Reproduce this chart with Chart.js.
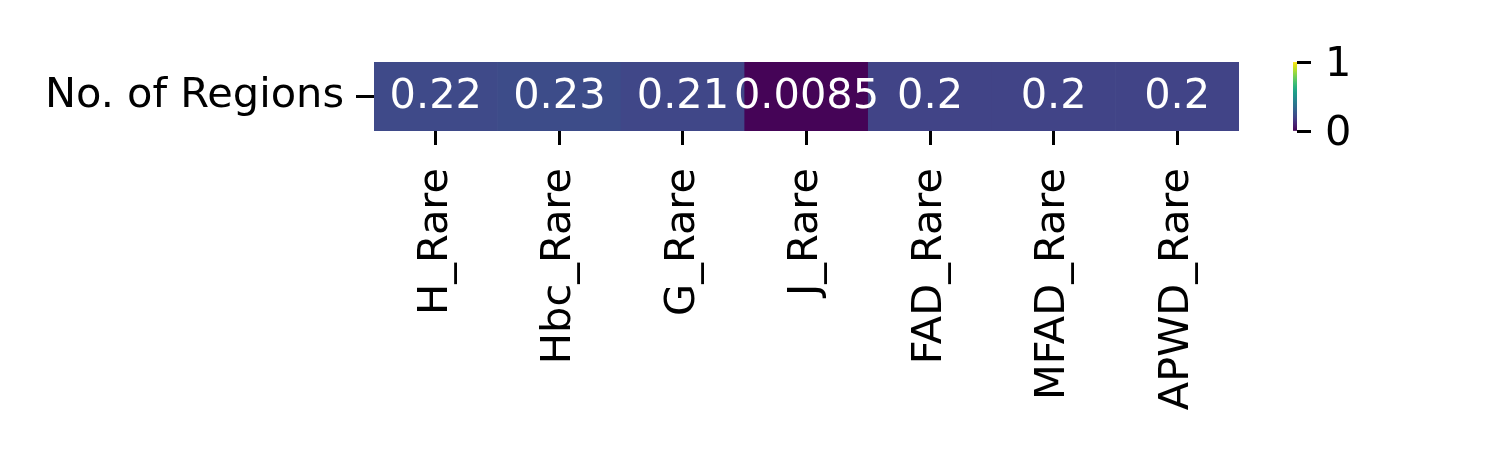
<!DOCTYPE html>
<html>
<head>
<meta charset="utf-8">
<script src="https://cdn.jsdelivr.net/npm/chart.js@4"></script>
<style>
  body { margin: 0; background: #fff; }
  #wrap { position: relative; width: 1500px; height: 450px; }
  #heat { position: absolute; left: 0; top: 0; }
  #cbar { position: absolute; left: 1270px; top: 0; }
</style>
</head>
<body>
<div id="wrap">
  <canvas id="heat" width="1260" height="450"></canvas>
  <canvas id="cbar" width="200" height="450"></canvas>
</div>
<script>
const rowLabel = 'No. of Regions';
const methods = ['H_Rare', 'Hbc_Rare', 'G_Rare', 'J_Rare', 'FAD_Rare', 'MFAD_Rare', 'APWD_Rare'];
const scores = [0.22, 0.23, 0.21, 0.0085, 0.2, 0.2, 0.2];
const colorbarTicks = [0, 1];

const FONT = 'DejaVu Sans, sans-serif';
const FONT_SIZE = 41.5;

// viridis sampled every 0.05
const viridis = ['#440154', '#471365', '#482475', '#463480', '#414487', '#3b528b', '#355f8d',
    '#2f6c8e', '#2a788e', '#25848e', '#21918c', '#1e9c89', '#22a884', '#2fb47c', '#44bf70',
    '#5ec962', '#7ad151', '#9bd93c', '#bddf26', '#dfe318', '#fde725'];

function hexRgb(h) {
    return [1, 3, 5].map(i => parseInt(h.substr(i, 2), 16));
}

function viridisColor(v) {
    v = Math.max(0, Math.min(1, v));
    const pos = v * (viridis.length - 1);
    const i = Math.min(Math.floor(pos), viridis.length - 2);
    const t = pos - i;
    const a = hexRgb(viridis[i]), b = hexRgb(viridis[i + 1]);
    const c = a.map((x, k) => Math.round(x + (b[k] - x) * t));
    return `rgb(${c[0]}, ${c[1]}, ${c[2]})`;
}

// cell annotations
const cellLabels = {
    id: 'cellLabels',
    afterDatasetsDraw(chart) {
        const ctx = chart.ctx;
        const meta = chart.getDatasetMeta(0);
        ctx.save();
        ctx.fillStyle = '#fff';
        ctx.font = `${FONT_SIZE}px ${FONT}`;
        ctx.textAlign = 'center';
        ctx.textBaseline = 'middle';
        meta.data.forEach((bar, i) => {
            const props = bar.getProps(['x', 'y', 'base'], true);
            ctx.fillText(String(scores[i]), props.x, (props.y + props.base) / 2 + 1);
        });
        ctx.restore();
    }
};

new Chart(document.getElementById('heat'), {
    type: 'bar',
    data: {
        labels: methods,
        datasets: [{
            data: scores.map(() => 1),
            backgroundColor: scores.map(viridisColor),
            borderWidth: 0,
            barPercentage: 1,
            categoryPercentage: 1
        }]
    },
    options: {
        responsive: false,
        devicePixelRatio: 1,
        animation: false,
        layout: { padding: { top: 62, left: 0, right: 21, bottom: 0 } },
        plugins: { legend: { display: false }, tooltip: { enabled: false } },
        scales: {
            x: {
                border: { display: false },
                grid: { offset: false, drawOnChartArea: false, tickLength: 14, tickWidth: 3, tickColor: '#000' },
                ticks: {
                    autoSkip: false, minRotation: 90, maxRotation: 90,
                    color: '#000', padding: 23,
                    font: { family: FONT, size: FONT_SIZE }
                },
                afterFit: scale => { scale.height = 319; }
            },
            y: {
                min: 0, max: 1,
                border: { display: false },
                grid: { drawOnChartArea: false, tickLength: 18, tickWidth: 3, tickColor: '#000' },
                afterBuildTicks: scale => { scale.ticks = [{ value: 0.5 }]; },
                ticks: {
                    color: '#000', padding: 12,
                    font: { family: FONT, size: FONT_SIZE },
                    callback: () => rowLabel
                },
                afterFit: scale => { scale.width = 374; }
            }
        }
    },
    plugins: [cellLabels]
});

// colour bar
new Chart(document.getElementById('cbar'), {
    type: 'bar',
    data: {
        labels: [''],
        datasets: [{
            data: [[colorbarTicks[0], colorbarTicks[1]]],
            backgroundColor: ctx => {
                const area = ctx.chart.chartArea;
                if (!area) return viridis[0];
                const g = ctx.chart.ctx.createLinearGradient(0, area.bottom, 0, area.top);
                viridis.forEach((c, i) => g.addColorStop(i / (viridis.length - 1), c));
                return g;
            },
            borderWidth: 0,
            borderSkipped: false,
            barPercentage: 1,
            categoryPercentage: 1
        }]
    },
    options: {
        responsive: false,
        devicePixelRatio: 1,
        animation: false,
        layout: { padding: { top: 62, bottom: 319, left: 23, right: 0 } },
        plugins: { legend: { display: false }, tooltip: { enabled: false } },
        scales: {
            x: { display: false },
            y: {
                position: 'right',
                min: 0, max: 1,
                border: { display: false },
                grid: { drawOnChartArea: false, tickLength: 14, tickWidth: 3, tickColor: '#000' },
                afterBuildTicks: scale => { scale.ticks = colorbarTicks.map(v => ({ value: v })); },
                ticks: {
                    color: '#000', padding: 14, labelOffset: 3,
                    font: { family: FONT, size: FONT_SIZE }
                },
                afterFit: scale => { scale.width = 173; }
            }
        }
    }
});
</script>
</body>
</html>
